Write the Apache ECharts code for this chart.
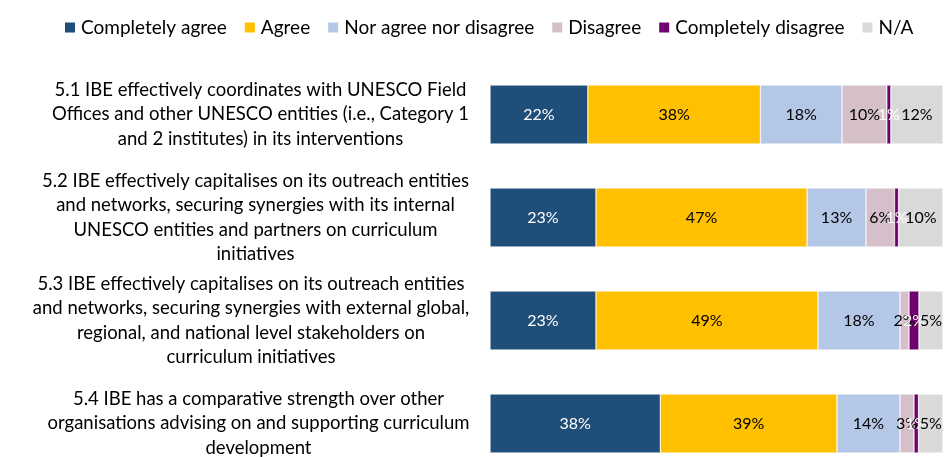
<!DOCTYPE html>
<html><head><meta charset="utf-8">
<script src="https://cdn.jsdelivr.net/npm/echarts@6/dist/echarts.min.js"></script>
<style>html,body{margin:0;padding:0;background:#fff}#c{width:944px;height:457px}</style>
</head><body><div id="c"></div>
<script>
const categories = [
  "5.1 IBE effectively coordinates with UNESCO Field\nOffices and other UNESCO entities (i.e., Category 1\nand 2 institutes) in its interventions",
  "5.2 IBE effectively capitalises on its outreach entities\nand networks, securing synergies with its internal\nUNESCO entities and partners on curriculum\ninitiatives",
  "5.3 IBE effectively capitalises on its outreach entities\nand networks, securing synergies with external global,\nregional, and national level stakeholders on\ncurriculum initiatives",
  "5.4 IBE has a comparative strength over other\norganisations advising on and supporting curriculum\ndevelopment"
];
const seriesNames = ["Completely agree", "Agree", "Nor agree nor disagree", "Disagree", "Completely disagree", "N/A"];
const completelyAgree = [21.6, 23.4, 23.4, 37.6];
const agree = [38.1, 46.6, 49.0, 39.0];
const norAgree = [18.0, 13.0, 18.1, 13.9];
const disagree = [9.9, 6.3, 2.0, 3.1];
const completelyDisagree = [0.9, 0.9, 2.2, 1.0];
const notApplicable = [11.5, 9.8, 5.3, 5.4];

const seriesData = [completelyAgree, agree, norAgree, disagree, completelyDisagree, notApplicable];
const colors = ['#1F4E79', '#FFC000', '#B4C7E7', '#D5C0CA', '#70006F', '#D9D9D9'];
const labelColors = ['#ffffff', '#000000', '#000000', '#000000', '#ffffff', '#000000'];

const FONT = 'Lato, "Open Sans", sans-serif';
const CAT_SIZE = 18.5;
const ctx = document.createElement('canvas').getContext('2d');
ctx.font = CAT_SIZE + 'px ' + FONT;
const rich = {};
categories.forEach((c, i) => {
  const w = Math.max(...c.split('\n').map(l => ctx.measureText(l).width));
  rich['r' + i] = { width: Math.ceil(w) + 1, align: 'center', fontSize: CAT_SIZE, lineHeight: 24.5, fontFamily: FONT, color: '#000' };
});

const chart = echarts.init(document.getElementById('c'), null, { renderer: 'canvas' });
chart.setOption({
  animation: false,
  backgroundColor: '#fff',
  textStyle: { fontFamily: FONT },
  legend: {
    top: 13, left: 58,
    icon: 'rect', itemWidth: 12, itemHeight: 12, itemGap: 16,
    textStyle: { fontSize: 19, color: '#000', fontFamily: FONT },
    data: seriesNames
  },
  grid: { left: 490, right: 1, top: 63, height: 412, outerBoundsMode: 'none', containLabel: false },
  xAxis: { type: 'value', min: 0, max: 100, show: false },
  yAxis: {
    type: 'category', data: categories, inverse: true,
    axisLine: { show: false }, axisTick: { show: false },
    axisLabel: {
      margin: 20,
      formatter: (v, i) => v.split('\n').map(l => '{r' + i + '|' + l + '}').join('\n'),
      rich: rich
    }
  },
  series: seriesNames.map((n, k) => ({
    name: n, type: 'bar', stack: 'all', barWidth: 59,
    data: seriesData[k],
    itemStyle: { color: colors[k], borderColor: '#ffffff', borderWidth: 0.5 },
    label: {
      show: true, position: 'inside', fontSize: 16, fontFamily: FONT,
      color: labelColors[k],
      formatter: p => Math.round(p.value) + '%'
    }
  }))
});
</script></body></html>
